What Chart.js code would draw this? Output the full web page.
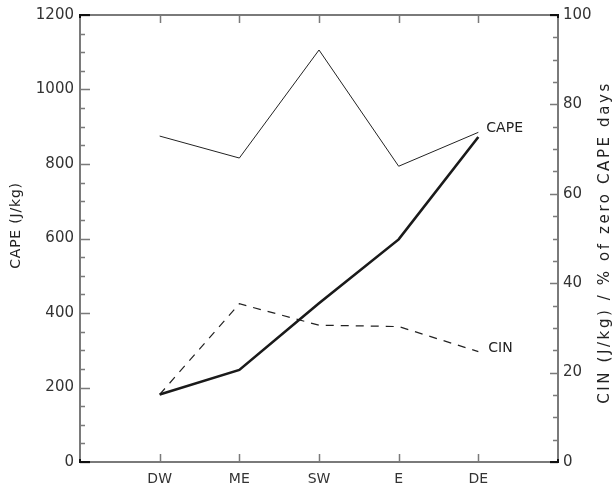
<!DOCTYPE html>
<html>
<head>
<meta charset="utf-8">
<script src="https://cdn.jsdelivr.net/npm/chart.js@4/dist/chart.umd.min.js"></script>
<style>
  body { margin: 0; background: #fff; }
  #box { width: 614px; height: 486px; }
</style>
</head>
<body>
<div id="box"><canvas id="grafico"></canvas></div>
<script>
// regions on the x axis
const categories = ['DW', 'ME', 'SW', 'E', 'DE'];
// CAPE (J/kg), left axis
const capeValues = [875, 816, 1106, 794, 885];
// % of zero CAPE days, right axis (thick line)
const zeroCapeDays = [15.1, 20.6, 35.5, 49.8, 72.7];
// CIN (J/kg), right axis (dashed line)
const cinValues = [15.1, 35.4, 30.6, 30.3, 24.7];
// tick labels
const leftTicks = [0, 200, 400, 600, 800, 1000, 1200];
const rightTicks = [0, 20, 40, 60, 80, 100];

const pontos = vals => vals.map((v, i) => ({ x: i + 1, y: v }));
const fonte = "'DejaVu Sans', sans-serif";
const cinza = '#7a7a7a';

// moldura, marcas internas e textos
const moldura = {
    id: 'moldura',
    afterDraw(chart) {
        const { ctx, chartArea: a, scales } = chart;
        const x = scales.x, yl = scales.y, yr = scales.y2;
        ctx.save();
        ctx.strokeStyle = cinza;
        ctx.lineWidth = 2;
        ctx.strokeRect(a.left, a.top, a.right - a.left, a.bottom - a.top);

        ctx.lineWidth = 1.5;
        ctx.beginPath();
        // marcas do eixo x (em baixo e em cima)
        categories.forEach((c, i) => {
            const px = Math.round(x.getPixelForValue(i + 1)) + 0.5;
            ctx.moveTo(px, a.bottom); ctx.lineTo(px, a.bottom - 8);
            ctx.moveTo(px, a.top); ctx.lineTo(px, a.top + 8);
        });
        // eixo esquerdo: maiores a cada 200, menores a cada 50
        for (let v = 0; v <= 1200; v += 50) {
            const py = Math.round(yl.getPixelForValue(v)) + 0.5;
            const len = v % 200 === 0 ? 10 : 5;
            ctx.moveTo(a.left, py); ctx.lineTo(a.left + len, py);
        }
        // eixo direito: maiores a cada 20, menores a cada 5
        for (let v = 0; v <= 100; v += 5) {
            const py = Math.round(yr.getPixelForValue(v)) + 0.5;
            const len = v % 20 === 0 ? 8 : 5;
            ctx.moveTo(a.right, py); ctx.lineTo(a.right - len, py);
        }
        ctx.stroke();

        // cantos mais escuros
        ctx.strokeStyle = '#111';
        ctx.lineWidth = 2;
        ctx.beginPath();
        ctx.moveTo(a.left + 10, a.top); ctx.lineTo(a.left, a.top); ctx.lineTo(a.left, a.top + 3);
        ctx.moveTo(a.left + 10, a.bottom); ctx.lineTo(a.left, a.bottom); ctx.lineTo(a.left, a.bottom - 3);
        ctx.moveTo(a.right - 8, a.top); ctx.lineTo(a.right, a.top); ctx.lineTo(a.right, a.top + 3);
        ctx.moveTo(a.right - 8, a.bottom); ctx.lineTo(a.right, a.bottom); ctx.lineTo(a.right, a.bottom - 3);
        ctx.stroke();

        // titulos dos eixos
        ctx.fillStyle = '#222';
        ctx.textAlign = 'center';
        ctx.textBaseline = 'middle';
        const cy = (a.top + a.bottom) / 2;
        ctx.save();
        ctx.font = '14px ' + fonte;
        ctx.letterSpacing = '0.8px';
        ctx.translate(16, cy - 13);
        ctx.rotate(-Math.PI / 2);
        ctx.fillText('CAPE (J/kg)', 0, 0);
        ctx.restore();

        ctx.save();
        ctx.font = '15px ' + fonte;
        ctx.letterSpacing = '2.6px';
        ctx.translate(605, cy + 4);
        ctx.rotate(-Math.PI / 2);
        ctx.fillText('CIN (J/kg) / % of zero CAPE days', 0, 0);
        ctx.restore();

        // rotulos das linhas
        ctx.font = '14px ' + fonte;
        ctx.textAlign = 'left';
        const pCape = chart.getDatasetMeta(0).data[4];
        const pCin = chart.getDatasetMeta(2).data[4];
        ctx.fillText('CAPE', pCape.x + 8, pCape.y - 4);
        ctx.fillText('CIN', pCin.x + 10, pCin.y - 3);
        ctx.restore();
    }
};

const ctx = document.getElementById('grafico').getContext('2d');
const grafico = new Chart(ctx, {
    type: 'line',
    data: {
        datasets: [{
            label: 'CAPE',
            data: pontos(capeValues),
            yAxisID: 'y',
            borderColor: '#222',
            borderWidth: 1,
        }, {
            label: '% zero CAPE days',
            data: pontos(zeroCapeDays),
            yAxisID: 'y2',
            borderColor: '#1a1a1a',
            borderWidth: 2.6,
        }, {
            label: 'CIN',
            data: pontos(cinValues),
            yAxisID: 'y2',
            borderColor: '#222',
            borderWidth: 1.2,
            borderDash: [8, 7],
        }]
    },
    options: {
        responsive: true,
        maintainAspectRatio: false,
        animation: false,
        layout: { padding: { top: 12, left: 0, right: 0, bottom: 0 } },
        elements: { point: { radius: 0 }, line: { tension: 0, fill: false } },
        plugins: { legend: { display: false }, tooltip: { enabled: false } },
        scales: {
            x: {
                type: 'linear',
                min: 0,
                max: 6,
                grid: { display: false, drawTicks: false },
                border: { display: false },
                afterBuildTicks: s => { s.ticks = categories.map((c, i) => ({ value: i + 1 })); },
                afterFit: s => { s.height = 24; },
                ticks: {
                    padding: 9,
                    color: '#333',
                    font: { family: fonte, size: 14 },
                    callback: v => categories[v - 1]
                }
            },
            y: {
                position: 'left',
                min: 0,
                max: 1200,
                grid: { display: false, drawTicks: false },
                border: { display: false },
                afterBuildTicks: s => { s.ticks = leftTicks.map(v => ({ value: v })); },
                afterFit: s => { s.width = 80; },
                ticks: { padding: 6, color: '#333', font: { family: fonte, size: 15 }, callback: v => String(v) }
            },
            y2: {
                position: 'right',
                min: 0,
                max: 100,
                grid: { display: false, drawTicks: false },
                border: { display: false },
                afterBuildTicks: s => { s.ticks = rightTicks.map(v => ({ value: v })); },
                afterFit: s => { s.width = 56; },
                ticks: { padding: 5, color: '#333', font: { family: fonte, size: 15 }, callback: v => String(v) }
            }
        }
    },
    plugins: [moldura]
});
</script>
</body>
</html>
